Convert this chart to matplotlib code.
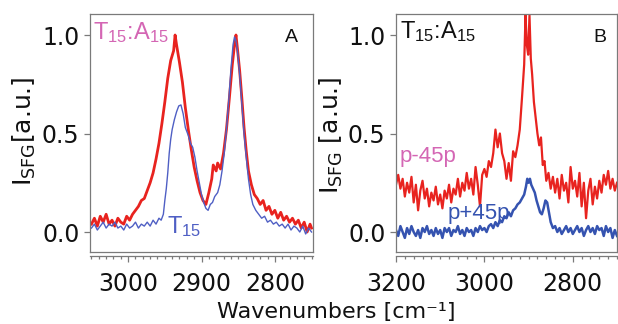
import matplotlib
matplotlib.use("Agg")
import matplotlib.pyplot as plt
from matplotlib.ticker import MultipleLocator

plt.rcParams['font.family'] = ['DejaVu Sans']
plt.rcParams['mathtext.fontset'] = 'dejavusans'
plt.rcParams['mathtext.rm'] = 'Liberation Sans'
plt.rcParams['mathtext.it'] = 'Liberation Sans:italic'
plt.rcParams['mathtext.bf'] = 'Liberation Sans:bold'
plt.rcParams['mathtext.sf'] = 'Liberation Sans'

# ---------------- Panel A data ----------------
a_red_wn = [3050, 3046, 3042, 3038, 3034, 3030, 3026, 3022, 3018, 3014, 3010, 3006, 3002, 2998,
            2994, 2990, 2986, 2982, 2978, 2974, 2970, 2966, 2962, 2958, 2954, 2950, 2946, 2942,
            2938, 2936, 2934, 2930, 2926, 2922, 2918, 2914, 2910, 2906, 2902, 2898, 2894, 2890,
            2886, 2884, 2880, 2878, 2874, 2870, 2866, 2862, 2858, 2855, 2853, 2851, 2848, 2845,
            2842, 2839, 2836, 2832, 2828, 2824, 2820, 2816, 2812, 2808, 2804, 2800, 2796, 2792,
            2788, 2784, 2780, 2776, 2772, 2768, 2764, 2760, 2756, 2752, 2750]
a_red_val = [0.04, 0.07, 0.03, 0.08, 0.05, 0.09, 0.04, 0.06, 0.03, 0.07, 0.05, 0.04, 0.08, 0.06,
             0.09, 0.11, 0.13, 0.16, 0.17, 0.21, 0.25, 0.30, 0.37, 0.45, 0.55, 0.66, 0.78, 0.87,
             0.92, 1.00, 0.95, 0.86, 0.76, 0.63, 0.52, 0.42, 0.33, 0.26, 0.20, 0.16, 0.14, 0.20,
             0.27, 0.34, 0.31, 0.35, 0.32, 0.40, 0.52, 0.68, 0.85, 0.95, 1.00, 0.93, 0.82, 0.68,
             0.53, 0.41, 0.31, 0.24, 0.19, 0.17, 0.14, 0.16, 0.11, 0.13, 0.09, 0.11, 0.07, 0.10,
             0.06, 0.08, 0.05, 0.07, 0.04, 0.06, 0.02, 0.05, 0.00, 0.04, 0.02]

a_blue_wn = [3050, 3046, 3042, 3038, 3034, 3030, 3026, 3022, 3018, 3014, 3010, 3006, 3002, 2998,
             2994, 2990, 2986, 2982, 2978, 2974, 2970, 2966, 2962, 2958, 2955, 2952, 2950, 2948,
             2946, 2944, 2942, 2940, 2937, 2934, 2931, 2928, 2925, 2922, 2918, 2915, 2912, 2909,
             2906, 2903, 2900, 2897, 2894, 2891, 2888, 2885, 2882, 2878, 2875, 2872, 2869, 2866,
             2863, 2860, 2857, 2855, 2853, 2851, 2848, 2845, 2842, 2839, 2836, 2833, 2830, 2826,
             2822, 2818, 2814, 2810, 2806, 2802, 2798, 2794, 2790, 2786, 2782, 2778, 2774, 2770,
             2766, 2762, 2758, 2754, 2750]
a_blue_val = [0.02, 0.04, 0.01, 0.03, 0.05, 0.02, 0.04, 0.03, 0.05, 0.02, 0.03, 0.01, 0.04, 0.02,
              0.03, 0.05, 0.02, 0.04, 0.03, 0.05, 0.03, 0.06, 0.04, 0.07, 0.06, 0.09, 0.16, 0.22,
              0.30, 0.40, 0.47, 0.52, 0.57, 0.61, 0.64, 0.645, 0.60, 0.53, 0.49, 0.45, 0.43, 0.38,
              0.31, 0.25, 0.19, 0.15, 0.12, 0.11, 0.14, 0.15, 0.18, 0.20, 0.24, 0.31, 0.40, 0.52,
              0.66, 0.82, 0.95, 0.99, 0.97, 0.92, 0.80, 0.65, 0.50, 0.38, 0.27, 0.19, 0.14, 0.11,
              0.09, 0.07, 0.08, 0.05, 0.06, 0.04, 0.05, 0.03, 0.04, 0.02, 0.04, 0.01, 0.03, 0.02,
              0.00, 0.03, -0.01, 0.02, 0.00]

# ---------------- Panel B data ----------------
b_red_wn = [3200, 3195, 3190, 3185, 3180, 3175, 3170, 3165, 3160, 3155, 3150, 3145, 3140, 3135,
            3130, 3125, 3120, 3115, 3110, 3105, 3100, 3095, 3090, 3085, 3080, 3075, 3070, 3065,
            3060, 3055, 3050, 3045, 3040, 3035, 3030, 3025, 3020, 3015, 3010, 3005, 3000, 2995,
            2990, 2985, 2980, 2975, 2970, 2965, 2960, 2955, 2950, 2945, 2940, 2935, 2930, 2925,
            2920, 2915, 2910, 2907, 2904, 2901, 2898, 2895, 2892, 2888, 2884, 2880, 2876, 2872,
            2868, 2864, 2860, 2855, 2850, 2845, 2840, 2835, 2830, 2825, 2820, 2815, 2810, 2805,
            2800, 2795, 2790, 2785, 2780, 2775, 2770, 2765, 2760, 2755, 2750, 2745, 2740, 2735,
            2730, 2725, 2720, 2715, 2710, 2705, 2700]
b_red_val = [0.24, 0.29, 0.22, 0.27, 0.18, 0.25, 0.20, 0.28, 0.15, 0.24, 0.11, 0.21, 0.26, 0.17,
             0.22, 0.13, 0.20, 0.16, 0.23, 0.14, 0.19, 0.12, 0.21, 0.17, 0.24, 0.15, 0.22, 0.19,
             0.27, 0.18, 0.25, 0.21, 0.30, 0.22, 0.27, 0.19, 0.33, 0.24, 0.13, 0.29, 0.32, 0.28,
             0.36, 0.33, 0.40, 0.52, 0.43, 0.50, 0.40, 0.36, 0.27, 0.35, 0.26, 0.41, 0.38, 0.44,
             0.52, 0.68, 0.85, 1.10, 0.95, 0.90, 1.10, 0.88, 0.80, 0.66, 0.58, 0.50, 0.44, 0.48,
             0.34, 0.36, 0.26, 0.30, 0.22, 0.28, 0.20, 0.27, 0.17, 0.29, 0.21, 0.25, 0.15, 0.33,
             0.22, 0.26, 0.18, 0.30, 0.13, 0.25, 0.07, 0.21, 0.27, 0.14, 0.23, 0.17, 0.26, 0.20,
             0.29, 0.24, 0.31, 0.22, 0.27, 0.21, 0.25]

b_blue_wn = [3200, 3195, 3190, 3185, 3180, 3175, 3170, 3165, 3160, 3155, 3150, 3145, 3140, 3135,
             3130, 3125, 3120, 3115, 3110, 3105, 3100, 3095, 3090, 3085, 3080, 3075, 3070, 3065,
             3060, 3055, 3050, 3045, 3040, 3035, 3030, 3025, 3020, 3015, 3010, 3005, 3000, 2995,
             2990, 2985, 2980, 2975, 2970, 2965, 2960, 2955, 2950, 2945, 2940, 2935, 2930, 2925,
             2920, 2915, 2910, 2906, 2903, 2900, 2897, 2894, 2890, 2886, 2882, 2878, 2874, 2870,
             2866, 2862, 2858, 2854, 2850, 2845, 2840, 2835, 2830, 2825, 2820, 2815, 2810, 2805,
             2800, 2795, 2790, 2785, 2780, 2775, 2770, 2765, 2760, 2755, 2750, 2745, 2740, 2735,
             2730, 2725, 2720, 2715, 2710, 2705, 2700]
b_blue_val = [0.01, -0.02, 0.03, 0.00, -0.03, 0.02, -0.01, 0.03, 0.00, -0.02, 0.01, -0.03, 0.02, 0.00,
              0.03, -0.01, 0.01, -0.02, 0.02, -0.01, 0.01, -0.03, 0.02, 0.00, 0.02, -0.02, 0.01, 0.00,
              0.03, -0.01, 0.01, -0.02, 0.02, 0.00, 0.01, -0.02, 0.02, 0.00, 0.03, 0.01, 0.02, 0.00,
              0.03, 0.04, 0.02, 0.05, 0.03, 0.06, 0.05, 0.08, 0.07, 0.10, 0.08, 0.11, 0.12, 0.14,
              0.15, 0.17, 0.19, 0.23, 0.27, 0.25, 0.27, 0.24, 0.22, 0.20, 0.16, 0.13, 0.10, 0.09,
              0.12, 0.16, 0.15, 0.10, 0.05, 0.02, 0.03, 0.00, 0.02, -0.01, 0.01, 0.03, 0.00, 0.02,
              -0.01, 0.01, 0.03, 0.00, 0.02, -0.02, 0.01, 0.03, 0.00, 0.02, -0.01, 0.03, 0.01, 0.02,
              -0.02, 0.03, 0.00, 0.02, -0.03, 0.01, -0.02]

y_ticks = [0.0, 0.5, 1.0]
y_tick_labels = ['0.0', '0.5', '1.0']
a_x_ticks = [3000, 2900, 2800]
b_x_ticks = [3200, 3000, 2800]

RED = '#e8231f'
BLUE_A = '#4f5fc4'
BLUE_B = '#3553b0'
PINK = '#d466b4'
GRAY = '#7a7a7a'

W, H = 618, 324
fig = plt.figure(figsize=(W / 100, H / 100), dpi=100)


def box(l, r, t, b):
    return [l / W, 1 - b / H, (r - l) / W, (b - t) / H]


axA = fig.add_axes(box(90, 313, 14, 252))
axB = fig.add_axes(box(396, 617, 14, 252))

for ax in (axA, axB):
    for s in ax.spines.values():
        s.set_color(GRAY)
        s.set_linewidth(0.9)
    ax.spines['bottom'].set_position(('outward', 3))
    ax.plot([0, 1], [0, 0], transform=ax.transAxes, color=GRAY, lw=0.9, clip_on=False)
    ax.set_ylim(-0.1015, 1.1066)
    ax.set_yticks(y_ticks)
    ax.set_yticklabels(y_tick_labels)
    ax.tick_params(axis='y', direction='out', length=4, width=0.9, color=GRAY,
                   pad=3.5, labelsize=17, labelcolor='#111111')
    ax.tick_params(axis='x', which='major', direction='out', length=4.5, width=0.9,
                   color=GRAY, pad=7, labelsize=17, labelcolor='#111111')
    ax.tick_params(axis='x', which='minor', direction='out', length=2.5, width=0.9,
                   color=GRAY)

# Panel A
axA.plot(a_red_wn, a_red_val, color=RED, lw=2.0)
axA.plot(a_blue_wn, a_blue_val, color=BLUE_A, lw=1.0)
axA.set_xlim(3052, 2748)
axA.set_xticks(a_x_ticks)
axA.xaxis.set_minor_locator(MultipleLocator(10))

# Panel B
axB.plot(b_red_wn, b_red_val, color=RED, lw=1.6)
axB.plot(b_blue_wn, b_blue_val, color=BLUE_B, lw=1.8)
axB.set_xlim(3200, 2700)
axB.set_xticks(b_x_ticks)
axB.xaxis.set_minor_locator(MultipleLocator(20))

ann = dict(family='Liberation Sans', math_fontfamily='custom', va='baseline', ha='left')

axA.text(0.013, 0.895, r'$\mathrm{T}_{15}$:$\mathrm{A}_{15}$', transform=axA.transAxes,
         color=PINK, fontsize=17, **ann)
axA.text(0.874, 0.882, 'A', transform=axA.transAxes, color='#111111', fontsize=14, **ann)
axA.text(0.345, 0.080, r'$\mathrm{T}_{15}$', transform=axA.transAxes,
         color=BLUE_A, fontsize=17, **ann)

axB.text(0.018, 0.899, r'$\mathrm{T}_{15}$:$\mathrm{A}_{15}$', transform=axB.transAxes,
         color='#111111', fontsize=17, **ann)
axB.text(0.891, 0.884, 'B', transform=axB.transAxes, color='#111111', fontsize=14, **ann)
axB.text(0.018, 0.378, 'p-45p', transform=axB.transAxes, color=PINK, fontsize=16, **ann)
axB.text(0.235, 0.139, 'p+45p', transform=axB.transAxes, color=BLUE_B, fontsize=16, **ann)

# Axis labels
fig.text(24 / W, 1 - 77 / H, r'I$_{\mathrm{SFG}}$[a.u.]', rotation=90, ha='center', va='top',
         fontsize=18, color='#111111', math_fontfamily='dejavusans')
fig.text(331 / W, 1 - 77 / H, r'I$_{\mathrm{SFG}}$ [a.u.]', rotation=90, ha='center', va='top',
         fontsize=18, color='#111111', math_fontfamily='dejavusans')
fig.text(336 / W, 1 - 318 / H, 'Wavenumbers [cm\u207b\u00b9]', ha='center', va='baseline',
         fontsize=16, color='#111111')

fig.savefig('out.png', dpi=100)
